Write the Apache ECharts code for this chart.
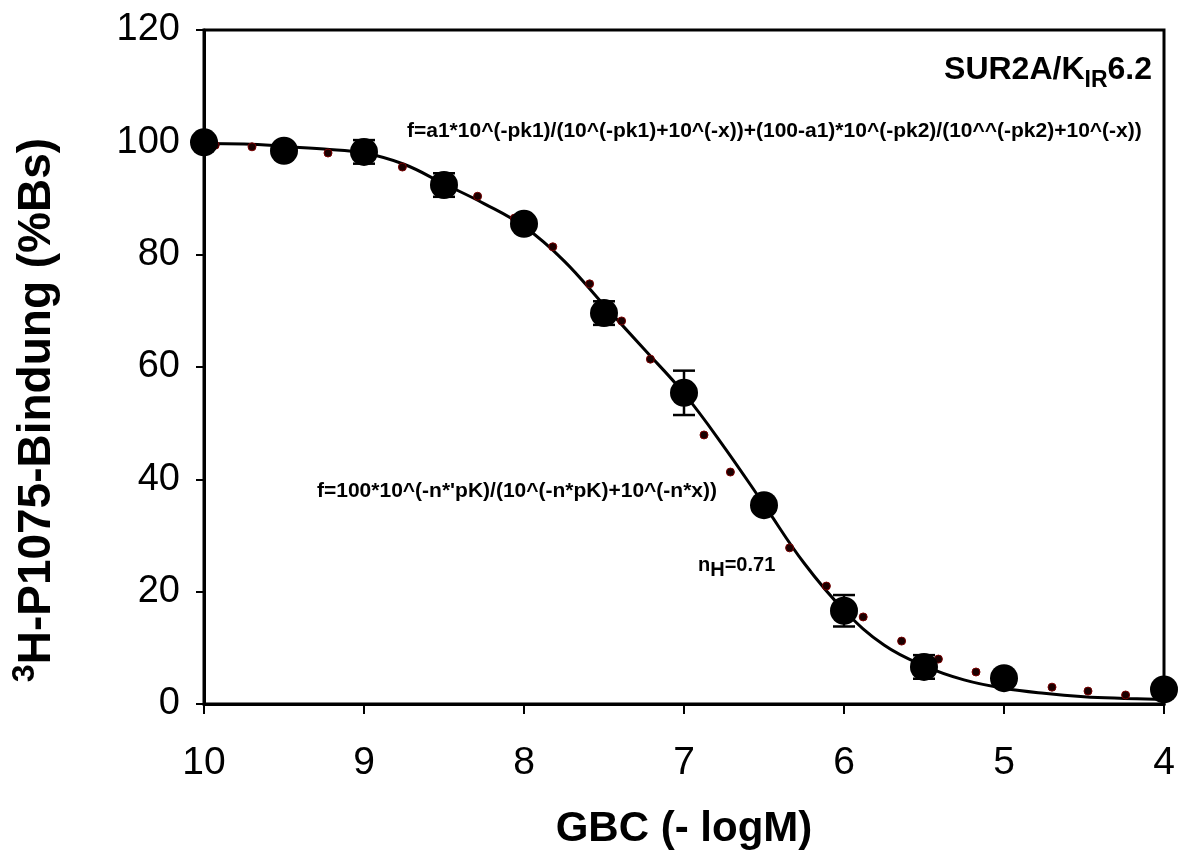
<!DOCTYPE html>
<html>
<head>
<meta charset="utf-8">
<script src="https://cdn.jsdelivr.net/npm/echarts@6/dist/echarts.min.js"></script>
<style>
html,body{margin:0;padding:0;background:#fff;}
#chart{width:1182px;height:852px;}
</style>
</head>
<body>
<div id="chart"></div>
<script>
// Measured data (mean ± SEM)
const conc = [10, 9.5, 9, 8.5, 8, 7.5, 7, 6.5, 6, 5.5, 5, 4];
const binding = [100, 98.5, 98.3, 92.4, 85.5, 69.6, 55.4, 35.4, 16.6, 6.6, 4.6, 2.6];
const sem = [0, 0, 2.1, 2.1, 0, 2.1, 3.95, 0, 2.8, 2.1, 0, 0];

// Two-site fit (solid line)
const fitX = [10, 9.75, 9.5, 9.25, 9, 8.75, 8.5, 8.25, 8, 7.75, 7.5, 7.25, 7, 6.75, 6.5, 6.25, 6, 5.75, 5.5, 5.25, 5, 4.75, 4.5, 4.25, 4];
const fitY = [99.8, 99.7, 99.3, 98.8, 98.1, 96.1, 92.6, 89.1, 85.0, 78.9, 71.0, 63.2, 55.3, 45.8, 35.5, 25.1, 16.7, 10.5, 6.8, 4.3, 2.8, 1.9, 1.3, 1.0, 0.8];

// Hill fit (dotted)
const hillX = [9.93, 9.70, 9.225, 8.76, 8.29, 8.06, 7.82, 7.59, 7.39, 7.21, 6.875, 6.71, 6.34, 6.11, 5.88, 5.64, 5.41, 5.175, 4.70, 4.475, 4.24];
const hillY = [99.5, 99.2, 98.1, 95.6, 90.4, 86.5, 81.4, 74.8, 68.2, 61.4, 47.9, 41.3, 27.8, 21.0, 15.5, 11.2, 8.0, 5.7, 3.0, 2.3, 1.6];

const xTicks = [4, 5, 6, 7, 8, 9, 10];
const yTicks = [0, 20, 40, 60, 80, 100, 120];

const FONT = '"Liberation Sans", Arial, Helvetica, sans-serif';

const chart = echarts.init(document.getElementById('chart'));

const fitData = fitX.map((x, i) => [x, fitY[i]]);
const hillData = hillX.map((x, i) => [x, hillY[i]]);
const pointData = conc.map((x, i) => [x, binding[i]]);
const errData = conc.map((x, i) => [x, binding[i] - sem[i], binding[i] + sem[i]]).filter((d, i) => sem[i] > 0);

const option = {
  backgroundColor: '#fff',
  animation: false,
  grid: { left: 204, right: 18, top: 30, bottom: 148, show: true, borderColor: '#000', borderWidth: 3, backgroundColor: 'transparent' },
  xAxis: {
    type: 'value', inverse: true, min: 4, max: 10, interval: 1,
    axisLine: { show: true, lineStyle: { color: '#000', width: 3 } },
    axisTick: { show: true, inside: false, length: 10, lineStyle: { color: '#000', width: 2 } },
    axisLabel: { color: '#000', fontSize: 39, fontFamily: FONT, margin: 40,
      formatter: v => xTicks.includes(v) ? String(v) : '' },
    splitLine: { show: false }
  },
  yAxis: {
    type: 'value', min: 0, max: 120, interval: 20,
    axisLine: { show: true, lineStyle: { color: '#000', width: 3 } },
    axisTick: { show: true, inside: false, length: 8, lineStyle: { color: '#000', width: 2 } },
    axisLabel: { color: '#000', fontSize: 38, fontFamily: FONT, margin: 24,
      formatter: v => yTicks.includes(v) ? String(v) : '' },
    splitLine: { show: false }
  },
  series: [
    {
      type: 'line', data: fitData, smooth: 0.4, showSymbol: false, symbol: 'none',
      lineStyle: { color: '#000', width: 3 }, z: 2
    },
    {
      type: 'scatter', data: hillData, symbol: 'circle', symbolSize: 8,
      itemStyle: { color: '#1a0000', borderColor: '#7a0000', borderWidth: 1, opacity: 1 }, z: 3
    },
    {
      type: 'custom', data: errData, z: 4,
      encode: { x: 0, y: [1, 2] },
      renderItem: function (params, api) {
        const x = api.value(0), lo = api.value(1), hi = api.value(2);
        const p1 = api.coord([x, hi]);
        const p2 = api.coord([x, lo]);
        const w = 11;
        const st = { stroke: '#000', lineWidth: 2.5 };
        return {
          type: 'group',
          children: [
            { type: 'line', shape: { x1: p1[0], y1: p1[1], x2: p2[0], y2: p2[1] }, style: st },
            { type: 'line', shape: { x1: p1[0] - w, y1: p1[1], x2: p1[0] + w, y2: p1[1] }, style: st },
            { type: 'line', shape: { x1: p2[0] - w, y1: p2[1], x2: p2[0] + w, y2: p2[1] }, style: st }
          ]
        };
      }
    },
    {
      type: 'scatter', data: pointData, symbol: 'circle', symbolSize: 28,
      itemStyle: { color: '#000', opacity: 1 }, z: 5
    }
  ],
  graphic: [
    {
      type: 'text', x: 1152, y: 70, z: 10,
      style: {
        text: '{a|SUR2A/K}{s|IR}{a|6.2}', align: 'right', verticalAlign: 'middle',
        rich: {
          a: { fontSize: 32, fontWeight: 'bold', fontFamily: FONT, fill: '#000', lineHeight: 44 },
          s: { fontSize: 23, fontWeight: 'bold', fontFamily: FONT, fill: '#000', lineHeight: 18, verticalAlign: 'bottom' }
        }
      }
    },
    {
      type: 'text', x: 407, y: 131, z: 10,
      style: {
        text: 'f=a1*10^(-pk1)/(10^(-pk1)+10^(-x))+(100-a1)*10^(-pk2)/(10^^(-pk2)+10^(-x))',
        fontSize: 21, fontWeight: 'bold', fontFamily: FONT, fill: '#000', align: 'left', verticalAlign: 'middle'
      }
    },
    {
      type: 'text', x: 317, y: 491, z: 10,
      style: {
        text: "f=100*10^(-n*'pK)/(10^(-n*pK)+10^(-n*x))",
        fontSize: 21, fontWeight: 'bold', fontFamily: FONT, fill: '#000', align: 'left', verticalAlign: 'middle'
      }
    },
    {
      type: 'text', x: 698, y: 565, z: 10,
      style: {
        text: '{a|n}{s|H}{a|=0.71}', align: 'left', verticalAlign: 'middle',
        rich: {
          a: { fontSize: 20, fontWeight: 'bold', fontFamily: FONT, fill: '#000', lineHeight: 30 },
          s: { fontSize: 20, fontWeight: 'bold', fontFamily: FONT, fill: '#000', lineHeight: 14, verticalAlign: 'bottom' }
        }
      }
    },
    {
      type: 'text', x: 684, y: 829, z: 10,
      style: {
        text: 'GBC (- logM)', fontSize: 42, fontWeight: 'bold', fontFamily: FONT, fill: '#000',
        align: 'center', verticalAlign: 'middle'
      }
    },
    {
      type: 'text', x: 37, y: 410, rotation: Math.PI / 2, z: 10,
      style: {
        text: '{s|3}{a|H-P1075-Bindung (%Bs)}', align: 'center', verticalAlign: 'middle',
        rich: {
          a: { fontSize: 46, fontWeight: 'bold', fontFamily: FONT, fill: '#000', lineHeight: 56 },
          s: { fontSize: 32, fontWeight: 'bold', fontFamily: FONT, fill: '#000', lineHeight: 20, verticalAlign: 'top' }
        }
      }
    }
  ]
};
chart.setOption(option);
</script>
</body>
</html>
